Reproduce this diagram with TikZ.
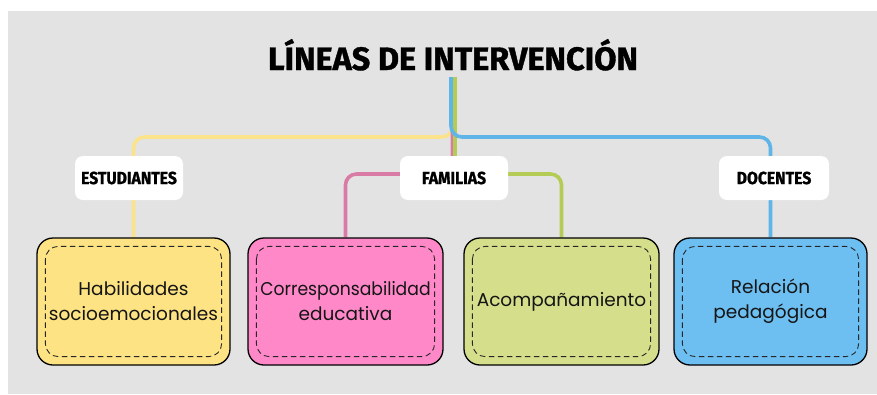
\documentclass[tikz,border=0pt]{standalone}
\usepackage{fontspec}
\setmainfont{Poppins}
\newfontfamily\headfont{Fira Sans}[BoldFeatures={FakeBold=1.2}]
\usetikzlibrary{calc}
\pgfdeclarelayer{bg}
\pgfdeclarelayer{back}
\pgfsetlayers{back,bg,main}
\definecolor{bggray}{HTML}{E3E3E3}
\definecolor{yfill}{HTML}{FDE383}
\definecolor{pfill}{HTML}{FF88C9}
\definecolor{gfill}{HTML}{D5DF8B}
\definecolor{bfill}{HTML}{6DBFF2}
\definecolor{yline}{HTML}{FAE38A}
\definecolor{pline}{HTML}{D97BA5}
\definecolor{gline}{HTML}{B4CB56}
\definecolor{bline}{HTML}{5FB4E8}
\definecolor{ink}{HTML}{151515}
\tikzset{
  conn/.style={line width=3.6pt, rounded corners=11pt},
  labbox/.style={fill=white, rounded corners=8pt, minimum width=108pt, minimum height=44pt,
    inner sep=0pt, font=\headfont\bfseries\fontsize{17.5}{20}\selectfont, text=black},
  ideabox/.style={draw=black, line width=1.3pt, rounded corners=16pt, minimum height=127pt,
    inner sep=0pt, align=center, text=ink, font=\fontsize{18.5}{25}\selectfont},
  innerdash/.style={draw=black!85, line width=0.9pt, dash pattern=on 5.5pt off 3.5pt, rounded corners=13pt},
}
\begin{document}
\begin{tikzpicture}[x=1pt,y=-1pt]
\useasboundingbox (0,0) rectangle (877,394);
\begin{pgfonlayer}{back}
\fill[white] (0,0) rectangle (877,394);
\fill[bggray] (8,11) rectangle (877,394);
\end{pgfonlayer}

\node[anchor=base, inner sep=0pt] (title) at (453,70)
  {\resizebox{370pt}{!}{\headfont\bfseries\fontsize{32}{36}\selectfont LÍNEAS DE INTERVENCIÓN}};

\node[labbox] (est) at (129,178) {\scalebox{0.9}[1]{ESTUDIANTES}};
\node[labbox] (fam) at (454,178) {\scalebox{0.9}[1]{FAMILIAS}};
\node[labbox, minimum width=110pt] (doc) at (774,178) {\scalebox{0.9}[1]{DOCENTES}};

\node[ideabox, fill=yfill, minimum width=193pt] (yb) at (133.5,301.5) {Habilidades\\socioemocionales};
\node[ideabox, fill=pfill, minimum width=195pt] (pb) at (345.5,301.5) {\scalebox{0.93}[1]{Corresponsabilidad}\\educativa};
\node[ideabox, fill=gfill, minimum width=195pt] (gb) at (561.5,301.5) {Acompañamiento};
\node[ideabox, fill=bfill, minimum width=193pt] (db) at (770.5,301.5) {Relación\\pedagógica};

\foreach \b in {yb,pb,gb,db}{
  \draw[innerdash] ([shift={(9pt,-9pt)}]\b.north west) rectangle ([shift={(-9pt,9pt)}]\b.south east);
}

\coordinate (stem) at (453,77);
\coordinate (hy) at (0,137);
\coordinate (hf) at (0,174);

\begin{pgfonlayer}{bg}
\draw[conn, yline] (stem) |- (hy -| yb.north) -- (yb.north);
\draw[conn, pline] ([xshift=-0.5pt]stem) |- (hf -| pb.north) -- (pb.north);
\draw[conn, gline] ([xshift=2pt]stem) |- (hf -| gb.north) -- (gb.north);
\draw[conn, bline] ([xshift=-2pt]stem) |- (hy -| db.north) -- (db.north);
\end{pgfonlayer}
\end{tikzpicture}
\end{document}
